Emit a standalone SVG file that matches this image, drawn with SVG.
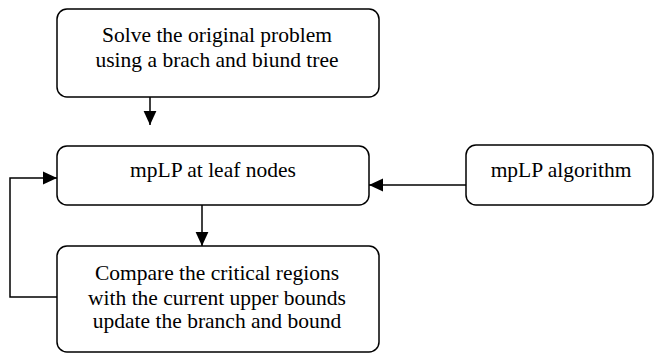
<svg xmlns="http://www.w3.org/2000/svg" width="654" height="354" viewBox="0 0 654 354">
  <style>
    .box { fill: #ffffff; stroke: #000000; stroke-width: 1.5; }
    .label { font-family: "Liberation Serif", "Times New Roman", serif; font-size: 21.5px; fill: #000000; text-anchor: middle; }
    .wire { fill: none; stroke: #000000; stroke-width: 1.5; }
  </style>
  <defs>
    <marker id="arrow" markerUnits="userSpaceOnUse" markerWidth="14" markerHeight="14" viewBox="0 0 14 14" refX="14" refY="7" orient="auto">
      <path d="M0,0.6 L14,7 L0,13.4 Z" fill="#000000"/>
    </marker>
  </defs>
  <rect width="654" height="354" fill="#ffffff"/>

  <g id="connectors">
    <line class="wire" x1="150" y1="97" x2="150" y2="125" marker-end="url(#arrow)"/>
    <line class="wire" x1="202" y1="205" x2="202" y2="246" marker-end="url(#arrow)"/>
    <line class="wire" x1="466" y1="185" x2="369" y2="185" marker-end="url(#arrow)"/>
    <polyline class="wire" points="57,297 10,297 10,178 57,178" marker-end="url(#arrow)"/>
  </g>

  <g id="solve">
    <rect class="box" x="57" y="9" width="322" height="88" rx="10"/>
    <text class="label" x="217" y="42">Solve the original problem</text>
    <text class="label" x="217" y="67">using a brach and biund tree</text>
  </g>

  <g id="mplp-leaf">
    <rect class="box" x="57" y="146" width="312" height="59" rx="10"/>
    <text class="label" x="213" y="177">mpLP at leaf nodes</text>
  </g>

  <g id="mplp-algorithm">
    <rect class="box" x="466" y="145" width="187" height="60" rx="10"/>
    <text class="label" x="561" y="177">mpLP algorithm</text>
  </g>

  <g id="compare">
    <rect class="box" x="57" y="246" width="322" height="106" rx="10"/>
    <text class="label" x="217" y="280">Compare the critical regions</text>
    <text class="label" x="217" y="305">with the current upper bounds</text>
    <text class="label" x="217" y="328">update the branch and bound</text>
  </g>
</svg>
